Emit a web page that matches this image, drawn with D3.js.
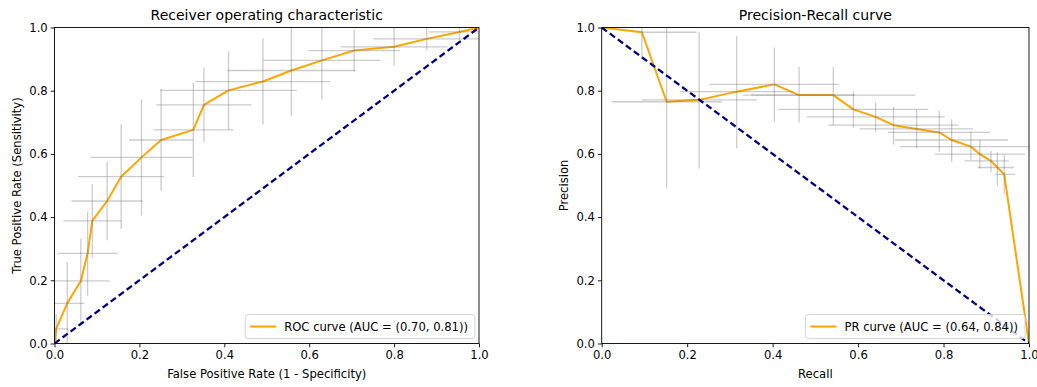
<!DOCTYPE html>
<html><head><meta charset="utf-8">
<script src="https://cdn.jsdelivr.net/npm/d3@7"></script>
<style>
html,body{margin:0;padding:0;background:#fff;}
svg{display:block;font-family:"DejaVu Sans",sans-serif;}
</style></head><body>
<svg id="c" width="1037" height="387"></svg>
<script>
// ---------- ROC data ----------
const rocFpr  = [0, 0.004, 0.030, 0.062, 0.078, 0.089, 0.124, 0.157, 0.205, 0.251, 0.327, 0.352, 0.410, 0.491, 0.558, 0.630, 0.706, 0.800, 0.877, 0.954, 1.0];
const rocTpr  = [0, 0.046, 0.127, 0.198, 0.285, 0.388, 0.451, 0.528, 0.589, 0.644, 0.676, 0.755, 0.801, 0.829, 0.864, 0.896, 0.927, 0.939, 0.964, 0.986, 1.0];
const rocXErr = [0, 0.028, 0.040, 0.068, 0.071, 0.068, 0.084, 0.101, 0.120, 0.075, 0.094, 0.112, 0.161, 0.159, 0.151, 0.138, 0.108, 0.126, 0.126, 0.073, 0];
const rocYErr = [0, 0.047, 0.130, 0.134, 0.133, 0.117, 0.124, 0.166, 0.184, 0.161, 0.149, 0.118, 0.123, 0.136, 0.143, 0.123, 0.066, 0.060, 0.035, 0.025, 0];
const rocLabel = "ROC curve (AUC = (0.70, 0.81))";

// ---------- PR data ----------
const prRecall    = [0, 0.094, 0.152, 0.228, 0.316, 0.404, 0.462, 0.542, 0.589, 0.641, 0.683, 0.737, 0.790, 0.819, 0.864, 0.885, 0.911, 0.926, 0.942, 1.0];
const prPrecision = [1.0, 0.985, 0.765, 0.771, 0.797, 0.820, 0.786, 0.786, 0.741, 0.717, 0.691, 0.679, 0.668, 0.644, 0.623, 0.599, 0.578, 0.557, 0.535, 0.0];
const prRecallLo  = [null, 0.094, 0.023, 0.094, 0.183, 0.253, 0.331, 0.350, 0.413, 0.480, 0.530, 0.604, 0.670, 0.686, 0.698, 0.780, 0.850, 0.880, 0.921, null];
const prRecallHi  = [null, 0.222, 0.281, 0.363, 0.448, 0.555, 0.593, 0.733, 0.764, 0.803, 0.834, 0.869, 0.909, 0.951, 1.03, 0.991, 0.953, 0.965, 0.968, null];
const prPrecLo    = [null, 0.908, 0.492, 0.554, 0.618, 0.702, 0.699, 0.691, 0.683, 0.670, 0.630, 0.618, 0.607, 0.575, 0.581, 0.554, 0.542, 0.499, 0.475, null];
const prPrecHi    = [null, 1.003, 1.000, 0.987, 0.973, 0.937, 0.876, 0.876, 0.797, 0.763, 0.749, 0.739, 0.736, 0.710, 0.672, 0.644, 0.609, 0.605, 0.597, null];
const prLabel = "PR curve (AUC = (0.64, 0.84))";

const ticks = [0, 0.2, 0.4, 0.6, 0.8, 1.0];

const svg = d3.select("#c");
const FS = 11.6;
const ORANGE = "#ffa500", NAVY = "#000080";

function panel(id, box, cfg){
  const x = d3.scaleLinear().domain([0,1]).range([box.x0, box.x1]);
  const y = d3.scaleLinear().domain([0,1]).range([box.y1, box.y0]);
  const g = svg.append("g");
  svg.append("defs").append("clipPath").attr("id", "clip"+id)
    .append("rect").attr("x", box.x0).attr("y", box.y0)
    .attr("width", box.x1-box.x0).attr("height", box.y1-box.y0);
  const plot = g.append("g").attr("clip-path", `url(#clip${id})`);

  // curve
  plot.append("path")
    .datum(d3.range(cfg.xs.length))
    .attr("fill","none").attr("stroke",ORANGE).attr("stroke-width",2)
    .attr("stroke-linejoin","round")
    .attr("d", d3.line().x(i=>x(cfg.xs[i])).y(i=>y(cfg.ys[i])));

  // error bars
  const eb = plot.append("g").attr("stroke","#808080").attr("stroke-opacity",0.4).attr("stroke-width",1.3);
  cfg.bars.forEach(b=>{
    if (b.xl==null) return;
    eb.append("line").attr("x1",x(b.xl)).attr("x2",x(b.xh)).attr("y1",y(b.y)).attr("y2",y(b.y));
    eb.append("line").attr("x1",x(b.x)).attr("x2",x(b.x)).attr("y1",y(b.yl)).attr("y2",y(b.yh));
  });

  // diagonal
  plot.append("line")
    .attr("x1",x(cfg.diag[0][0])).attr("y1",y(cfg.diag[0][1]))
    .attr("x2",x(cfg.diag[1][0])).attr("y2",y(cfg.diag[1][1]))
    .attr("stroke",NAVY).attr("stroke-width",2.3).attr("stroke-dasharray","6.5,3.5");

  // spines
  g.append("rect").attr("x",box.x0).attr("y",box.y0)
    .attr("width",box.x1-box.x0).attr("height",box.y1-box.y0)
    .attr("fill","none").attr("stroke","#000").attr("stroke-width",0.9);

  // axes
  const xa = g.append("g").attr("transform",`translate(0,${box.y1})`)
    .call(d3.axisBottom(x).tickValues(ticks).tickFormat(d3.format(".1f")).tickSize(3.8).tickPadding(3));
  const ya = g.append("g").attr("transform",`translate(${box.x0},0)`)
    .call(d3.axisLeft(y).tickValues(ticks).tickFormat(d3.format(".1f")).tickSize(3.8).tickPadding(3));
  [xa,ya].forEach(a=>{
    a.select(".domain").remove();
    a.selectAll("text").attr("font-size",FS).attr("fill","#000").attr("font-family","DejaVu Sans");
    a.selectAll("line").attr("stroke","#000").attr("stroke-width",0.9);
  });

  // titles & labels
  g.append("text").attr("x",(box.x0+box.x1)/2).attr("y",box.y0-7.5)
    .attr("text-anchor","middle").attr("font-size",14).text(cfg.title);
  g.append("text").attr("x",(box.x0+box.x1)/2).attr("y",box.y1+34)
    .attr("text-anchor","middle").attr("font-size",FS).text(cfg.xlabel);
  g.append("text").attr("transform",`translate(${box.x0-34},${(box.y0+box.y1)/2}) rotate(-90)`)
    .attr("text-anchor","middle").attr("font-size",FS).text(cfg.ylabel);

  // legend
  const tmp = g.append("text").attr("font-size",FS).text(cfg.label);
  const tw = tmp.node().getComputedTextLength(); tmp.remove();
  const lw = 7 + 25 + 8 + tw + 6, lh = 24;
  const lx = box.x1 - 4 - lw, ly = box.y1 - 5 - lh;
  const lg = g.append("g");
  lg.append("rect").attr("x",lx).attr("y",ly).attr("width",lw).attr("height",lh).attr("rx",3)
    .attr("fill","#fff").attr("fill-opacity",0.8).attr("stroke","#d0d0d0").attr("stroke-width",0.9);
  lg.append("line").attr("x1",lx+5).attr("x2",lx+31).attr("y1",ly+lh/2).attr("y2",ly+lh/2)
    .attr("stroke",ORANGE).attr("stroke-width",2);
  lg.append("text").attr("x",lx+39).attr("y",ly+lh/2+4).attr("font-size",FS).text(cfg.label);
}

panel("L", {x0:54.5, x1:479, y0:27.5, y1:343.5}, {
  xs: rocFpr, ys: rocTpr,
  bars: rocFpr.map((v,i)=> rocXErr[i]===0 && rocYErr[i]===0 ? {xl:null} :
    {x:v, y:rocTpr[i], xl:v-rocXErr[i], xh:v+rocXErr[i], yl:rocTpr[i]-rocYErr[i], yh:rocTpr[i]+rocYErr[i]}),
  diag: [[0,0],[1,1]],
  title: "Receiver operating characteristic",
  xlabel: "False Positive Rate (1 - Specificity)",
  ylabel: "True Positive Rate (Sensitivity)",
  label: rocLabel
});

panel("R", {x0:601.7, x1:1029, y0:27.5, y1:343.5}, {
  xs: prRecall, ys: prPrecision,
  bars: prRecall.map((v,i)=>({x:v, y:prPrecision[i], xl:prRecallLo[i], xh:prRecallHi[i], yl:prPrecLo[i], yh:prPrecHi[i]})),
  diag: [[0,1],[1,0]],
  title: "Precision-Recall curve",
  xlabel: "Recall",
  ylabel: "Precision",
  label: prLabel
});
</script>
</body></html>
